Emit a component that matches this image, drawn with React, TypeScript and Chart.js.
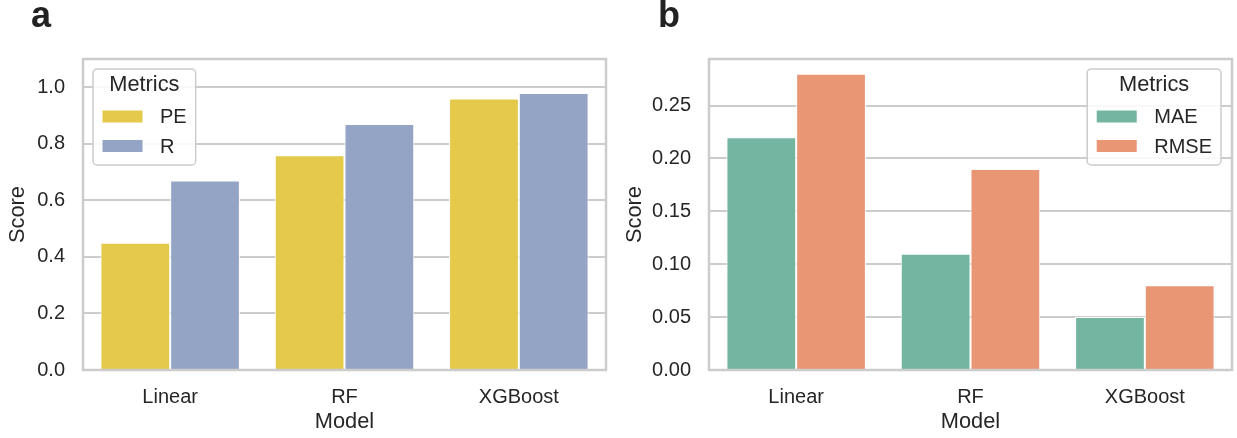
import React, { useEffect, useRef } from 'react';
import { Chart, registerables } from 'chart.js';

Chart.register(...registerables);

// ---- data ----
const models = ['Linear', 'RF', 'XGBoost'];
const peValues = [0.45, 0.76, 0.96];
const rValues = [0.67, 0.87, 0.98];
const maeValues = [0.22, 0.11, 0.05];
const rmseValues = [0.28, 0.19, 0.08];
const ticksA = [0, 0.2, 0.4, 0.6, 0.8, 1.0];
const ticksB = [0, 0.05, 0.1, 0.15, 0.2, 0.25];
const legendTitle = 'Metrics';
const xTitle = 'Model';
const yTitle = 'Score';

const FONT = '"Liberation Sans", Arial, Helvetica, sans-serif';
const TEXT = '#262626';
const GRID = '#cccccc';
const TICK_SIZE = 20;
const LABEL_SIZE = 21.8;

type PanelProps = {
  left: number;
  width: number;
  letter: string;
  letterX: number;
  seriesNames: string[];
  series: number[][];
  colors: string[];
  yMax: number;
  yTicks: number[];
  decimals: number;
  yAxisWidth: number;
  yTitlePad: number;
  rightPad: number;
  legendSide: 'left' | 'right';
};

function makeDecor(p: PanelProps) {
  return {
    id: 'panelDecor',
    afterDatasetsDraw(chart: any) {
      const { ctx, chartArea: a } = chart;
      ctx.save();
      // frame
      ctx.strokeStyle = GRID;
      ctx.lineWidth = 2.5;
      ctx.strokeRect(a.left, a.top, a.right - a.left, a.bottom - a.top);

      // legend
      const itemFont = `${TICK_SIZE}px ${FONT}`;
      const titleFont = `${LABEL_SIZE}px ${FONT}`;
      ctx.font = itemFont;
      let maxW = 0;
      p.seriesNames.forEach((n) => {
        maxW = Math.max(maxW, ctx.measureText(n).width);
      });
      const w = 9 + 40 + 18 + maxW + 9;
      const h = 96;
      const bx = p.legendSide === 'left' ? a.left + 10 : a.right - 11 - w;
      const by = a.top + 10;
      ctx.beginPath();
      if (ctx.roundRect) ctx.roundRect(bx, by, w, h, 4);
      else ctx.rect(bx, by, w, h);
      ctx.fillStyle = 'rgba(255,255,255,0.85)';
      ctx.fill();
      ctx.strokeStyle = GRID;
      ctx.lineWidth = 1.5;
      ctx.stroke();

      ctx.fillStyle = TEXT;
      ctx.font = titleFont;
      ctx.textAlign = 'center';
      ctx.textBaseline = 'middle';
      ctx.fillText(legendTitle, bx + w / 2, by + 16);

      ctx.font = itemFont;
      ctx.textAlign = 'left';
      p.seriesNames.forEach((n, i) => {
        const cy = by + 47.5 + 29.5 * i;
        ctx.fillStyle = p.colors[i];
        ctx.fillRect(bx + 9.5, cy - 6, 40, 12);
        ctx.fillStyle = TEXT;
        ctx.fillText(n, bx + 67, cy + 1);
      });

      // panel letter
      ctx.font = `bold 36px ${FONT}`;
      ctx.textAlign = 'left';
      ctx.textBaseline = 'alphabetic';
      ctx.fillStyle = '#222222';
      ctx.fillText(p.letter, p.letterX, 27);
      ctx.restore();
    },
  };
}

function Panel(p: PanelProps) {
  const ref = useRef<HTMLCanvasElement | null>(null);
  useEffect(() => {
    if (!ref.current) return;
    const chart = new Chart(ref.current, {
      type: 'bar',
      data: {
        labels: models,
        datasets: p.series.map((vals, i) => ({
          label: p.seriesNames[i],
          data: vals,
          backgroundColor: p.colors[i],
          borderColor: '#ffffff',
          borderWidth: 1,
          categoryPercentage: 0.8,
          barPercentage: 1.0,
        })),
      },
      options: {
        responsive: false,
        animation: false,
        events: [],
        layout: { padding: { left: 0, top: 59, right: p.rightPad, bottom: 0 } },
        plugins: {
          legend: { display: false },
          tooltip: { enabled: false },
          title: { display: false },
        },
        scales: {
          x: {
            grid: { display: false, drawTicks: false },
            border: { display: false },
            ticks: { color: TEXT, font: { family: FONT, size: TICK_SIZE }, padding: 15 },
            title: {
              display: true,
              text: xTitle,
              color: TEXT,
              font: { family: FONT, size: LABEL_SIZE },
              padding: { top: 0, bottom: 3 },
            },
            afterFit: (s: any) => {
              s.height = 68;
            },
          },
          y: {
            min: 0,
            max: p.yMax,
            grid: { color: GRID, lineWidth: 2, drawTicks: false },
            border: { display: false },
            ticks: {
              color: TEXT,
              font: { family: FONT, size: TICK_SIZE },
              padding: 18,
              callback: (v: any) => Number(v).toFixed(p.decimals),
            },
            afterBuildTicks: (s: any) => {
              s.ticks = p.yTicks.map((v) => ({ value: v }));
            },
            title: {
              display: true,
              text: yTitle,
              color: TEXT,
              font: { family: FONT, size: LABEL_SIZE },
              padding: { top: p.yTitlePad, bottom: 0 },
            },
            afterFit: (s: any) => {
              s.width = p.yAxisWidth;
            },
          },
        },
      } as any,
      plugins: [makeDecor(p)],
    });
    return () => chart.destroy();
  }, []);
  return (
    <div style={{ position: 'absolute', left: p.left, top: 0, width: p.width, height: 438 }}>
      <canvas ref={ref} width={p.width} height={438} style={{ width: p.width, height: 438, display: 'block' }} />
    </div>
  );
}

export default function App() {
  return (
    <div style={{ position: 'absolute', left: 0, top: 0, width: 1237, height: 438, background: '#ffffff' }}>
      <Panel
        left={0}
        width={618}
        letter="a"
        letterX={31}
        seriesNames={['PE', 'R']}
        series={[peValues, rValues]}
        colors={['#e4c94a', '#94a4c4']}
        yMax={1.1}
        yTicks={ticksA}
        decimals={1}
        yAxisWidth={83}
        yTitlePad={5}
        rightPad={12}
        legendSide="left"
      />
      <Panel
        left={618}
        width={619}
        letter="b"
        letterX={40}
        seriesNames={['MAE', 'RMSE']}
        series={[maeValues, rmseValues]}
        colors={['#73b5a0', '#e89674']}
        yMax={0.294}
        yTicks={ticksB}
        decimals={2}
        yAxisWidth={91}
        yTitlePad={3.7}
        rightPad={5}
        legendSide="right"
      />
    </div>
  );
}
